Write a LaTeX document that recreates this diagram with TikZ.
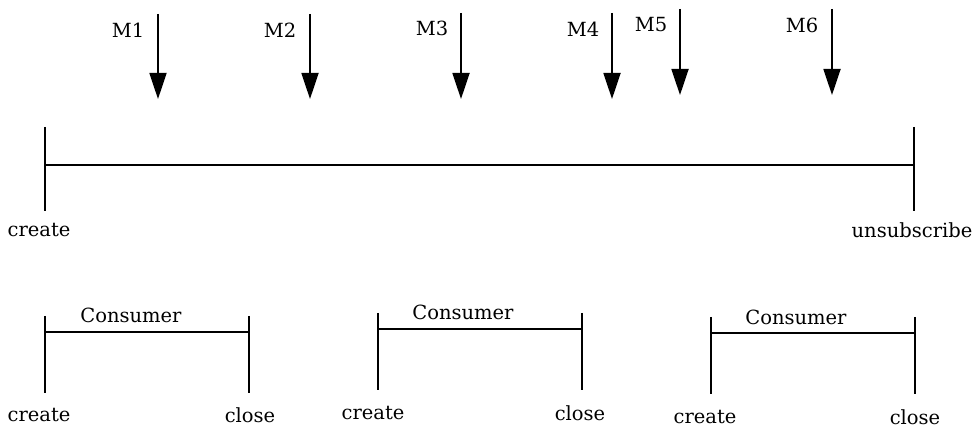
\documentclass[tikz,border=0pt]{standalone}
\usepackage{fontspec}
\setmainfont{DejaVu Serif}
\usetikzlibrary{arrows.meta}
\begin{document}
\begin{tikzpicture}[x=1pt,y=-1pt,
  line width=1.8pt,
  lbl/.style={font=\fontsize{19.5}{22}\selectfont, inner sep=0pt, anchor=center},
  msg/.style={-{Triangle[length=26pt,width=17pt]}, line width=1.8pt}]
\useasboundingbox (0,0) rectangle (974,427);
% main timeline
\coordinate (mt1) at (45,127); \coordinate (mb1) at (45,211);
\coordinate (mt2) at (914,127); \coordinate (mb2) at (914,211);
\coordinate (ml) at (45,165); \coordinate (mr) at (914,165);
\draw (mt1) -- (mb1);
\draw (mt2) -- (mb2);
\draw (ml) -- (mr);
\node[lbl] (c0) at (39,230) {create};
\node[lbl] (u0) at (912,230) {unsubscribe};
% messages
\foreach \n/\x/\ys/\ye/\lx/\ly in {1/158/14/99/128/30, 2/310/14/99/280/30, 3/461/13/99/432/28, 4/612/13/99/583/29, 5/680/9/95/651/25, 6/832/9/95/802/25}{
  \coordinate (s\n) at (\x,\ys);
  \coordinate (e\n) at (\x,\ye);
  \draw[msg] (s\n) -- (e\n);
  \node[lbl] (lm\n) at (\lx,\ly) {M\n};
}
% consumers
\foreach \i/\xa/\xb/\yt/\yh/\yb/\cx/\cy/\ly in {1/45/249/316/332/393/131/315/415, 2/378/582/313/329/390/463/312/413, 3/711/915/317/333/394/796/317/417}{
  \coordinate (at\i) at (\xa,\yt); \coordinate (ab\i) at (\xa,\yb);
  \coordinate (bt\i) at (\xb,\yt); \coordinate (bb\i) at (\xb,\yb);
  \coordinate (ah\i) at (\xa,\yh); \coordinate (bh\i) at (\xb,\yh);
  \draw (at\i) -- (ab\i);
  \draw (bt\i) -- (bb\i);
  \draw (ah\i) -- (bh\i);
  \node[lbl] (cn\i) at (\cx,\cy) {Consumer};
}
\node[lbl] (cr1) at (39,415) {create};
\node[lbl] (cl1) at (250,415) {close};
\node[lbl] (cr2) at (373,413) {create};
\node[lbl] (cl2) at (580,413) {close};
\node[lbl] (cr3) at (705,417) {create};
\node[lbl] (cl3) at (915,417) {close};
\end{tikzpicture}
\end{document}
